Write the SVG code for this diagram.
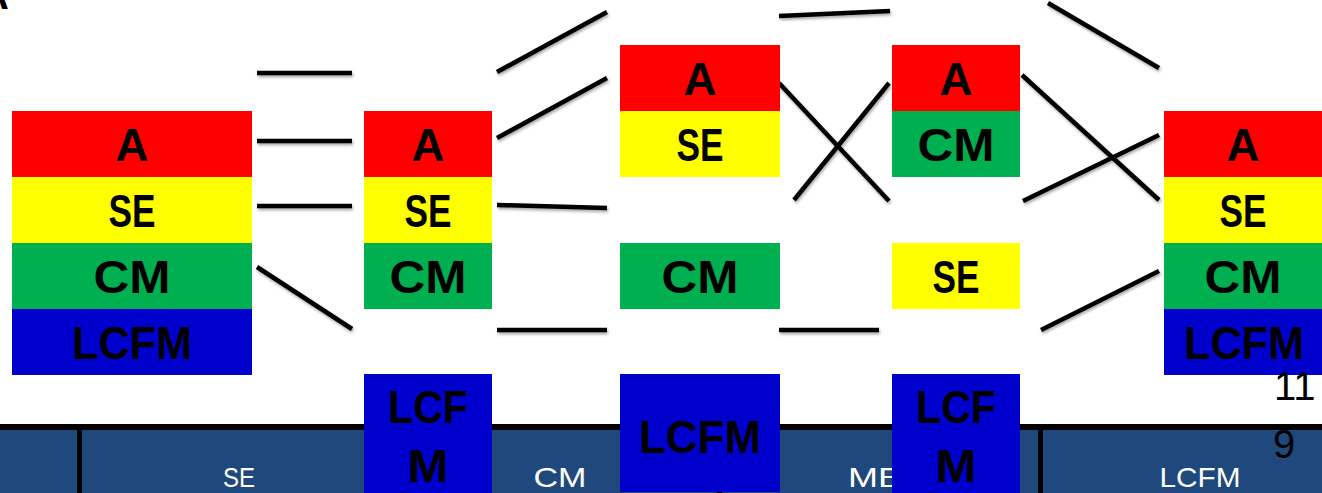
<svg xmlns="http://www.w3.org/2000/svg" width="1322" height="493" viewBox="0 0 1322 493">
<style>
.lbl{font-family:"Liberation Sans",Arial,sans-serif;font-weight:bold;font-size:46px;fill:#000;text-anchor:middle}
.bar{font-family:"Liberation Sans",Arial,sans-serif;font-size:28px;fill:#fff;text-anchor:middle}
.num{font-family:"Liberation Sans",Arial,sans-serif;font-size:40px;fill:#000}
.r{fill:#FF0000}.y{fill:#FFFF00}.g{fill:#00B050}.b{fill:#0000CC}
.conn line{stroke:#000;stroke-width:4.5;stroke-linecap:butt}
</style>
<defs>
<filter id="sh" x="-10%" y="-50%" width="120%" height="200%">
<feDropShadow dx="1" dy="2" stdDeviation="1.5" flood-color="#000" flood-opacity="0.35"/>
</filter>
</defs>
<rect width="1322" height="493" fill="#fff"/>
<text x="9" y="9" font-family="Liberation Sans,Arial,sans-serif" font-weight="bold" font-size="40" text-anchor="end">A</text>
<!-- bottom bar -->
<g id="bottom-bar">
<rect x="0" y="430" width="1322" height="63" fill="#1F497D"/>
<rect x="0" y="424" width="1322" height="6" fill="#000"/>
<rect x="77" y="424" width="5" height="69" fill="#000"/>
<rect x="397" y="424" width="5" height="69" fill="#000"/>
<rect x="717" y="424" width="5" height="69" fill="#000"/>
<rect x="1038" y="424" width="5" height="69" fill="#000"/>
<text class="bar" x="239" y="487" textLength="32" lengthAdjust="spacingAndGlyphs">SE</text>
<text class="bar" x="560" y="487" textLength="53" lengthAdjust="spacingAndGlyphs">CM</text>
<text class="bar" x="848" y="487" style="text-anchor:start" textLength="54" lengthAdjust="spacingAndGlyphs">ME</text>
<text class="bar" x="1200" y="487" textLength="81" lengthAdjust="spacingAndGlyphs">LCFM</text>
</g>
<!-- connectors -->
<g id="connectors" class="conn" filter="url(#sh)">
<line x1="257" y1="73" x2="352" y2="73"/>
<line x1="257" y1="141" x2="352" y2="141"/>
<line x1="257" y1="206" x2="352" y2="206"/>
<line x1="257" y1="267" x2="352" y2="329"/>
<line x1="497" y1="72" x2="607" y2="12"/>
<line x1="497" y1="138" x2="607" y2="78"/>
<line x1="497" y1="205" x2="607" y2="208"/>
<line x1="497" y1="330" x2="607" y2="330"/>
<line x1="779" y1="16" x2="890" y2="11"/>
<line x1="779" y1="83" x2="889" y2="201"/>
<line x1="794" y1="200" x2="889" y2="83"/>
<line x1="779" y1="330" x2="879" y2="330"/>
<line x1="1048" y1="3" x2="1159" y2="68"/>
<line x1="1022" y1="75" x2="1159" y2="200"/>
<line x1="1023" y1="201" x2="1159" y2="135"/>
<line x1="1041" y1="330" x2="1159" y2="271"/>
</g>
<!-- column 1 -->
<g id="col1">
<g id="c1-A"><rect class="r" x="12" y="111" width="240" height="66"/><text class="lbl" x="132" y="161" textLength="33" lengthAdjust="spacingAndGlyphs">A</text></g>
<g id="c1-SE"><rect class="y" x="12" y="177" width="240" height="66"/><text class="lbl" x="132" y="227" textLength="47" lengthAdjust="spacingAndGlyphs">SE</text></g>
<g id="c1-CM"><rect class="g" x="12" y="243" width="240" height="66"/><text class="lbl" x="132" y="293" textLength="77" lengthAdjust="spacingAndGlyphs">CM</text></g>
<g id="c1-LCFM"><rect class="b" x="12" y="309" width="240" height="66"/><text class="lbl" x="132" y="359" textLength="120" lengthAdjust="spacingAndGlyphs">LCFM</text></g>
</g>
<!-- column 2 -->
<g id="col2">
<g id="c2-A"><rect class="r" x="364" y="111" width="128" height="66"/><text class="lbl" x="428" y="161" textLength="33" lengthAdjust="spacingAndGlyphs">A</text></g>
<g id="c2-SE"><rect class="y" x="364" y="177" width="128" height="66"/><text class="lbl" x="428" y="227" textLength="47" lengthAdjust="spacingAndGlyphs">SE</text></g>
<g id="c2-CM"><rect class="g" x="364" y="243" width="128" height="66"/><text class="lbl" x="428" y="293" textLength="77" lengthAdjust="spacingAndGlyphs">CM</text></g>
<g id="c2-LCFM"><rect class="b" x="364" y="374" width="128" height="119"/><text class="lbl" x="428" y="423" textLength="80" lengthAdjust="spacingAndGlyphs">LCF</text><text class="lbl" x="428" y="482" textLength="41" lengthAdjust="spacingAndGlyphs">M</text></g>
</g>
<!-- column 3 -->
<g id="col3">
<g id="c3-A"><rect class="r" x="620" y="45" width="160" height="66"/><text class="lbl" x="700" y="95" textLength="33" lengthAdjust="spacingAndGlyphs">A</text></g>
<g id="c3-SE"><rect class="y" x="620" y="111" width="160" height="66"/><text class="lbl" x="700" y="161" textLength="47" lengthAdjust="spacingAndGlyphs">SE</text></g>
<g id="c3-CM"><rect class="g" x="620" y="243" width="160" height="66"/><text class="lbl" x="700" y="293" textLength="77" lengthAdjust="spacingAndGlyphs">CM</text></g>
<g id="c3-LCFM"><rect class="b" x="620" y="374" width="160" height="118"/><text class="lbl" x="700" y="453" textLength="122" lengthAdjust="spacingAndGlyphs">LCFM</text></g>
</g>
<!-- column 4 -->
<g id="col4">
<g id="c4-A"><rect class="r" x="892" y="45" width="128" height="66"/><text class="lbl" x="956" y="95" textLength="33" lengthAdjust="spacingAndGlyphs">A</text></g>
<g id="c4-CM"><rect class="g" x="892" y="111" width="128" height="66"/><text class="lbl" x="956" y="161" textLength="77" lengthAdjust="spacingAndGlyphs">CM</text></g>
<g id="c4-SE"><rect class="y" x="892" y="243" width="128" height="66"/><text class="lbl" x="956" y="293" textLength="47" lengthAdjust="spacingAndGlyphs">SE</text></g>
<g id="c4-LCFM"><rect class="b" x="892" y="374" width="128" height="119"/><text class="lbl" x="956" y="423" textLength="80" lengthAdjust="spacingAndGlyphs">LCF</text><text class="lbl" x="956" y="482" textLength="41" lengthAdjust="spacingAndGlyphs">M</text></g>
</g>
<!-- column 5 -->
<g id="col5">
<g id="c5-A"><rect class="r" x="1164" y="111" width="158" height="66"/><text class="lbl" x="1243" y="161" textLength="33" lengthAdjust="spacingAndGlyphs">A</text></g>
<g id="c5-SE"><rect class="y" x="1164" y="177" width="158" height="66"/><text class="lbl" x="1243" y="227" textLength="47" lengthAdjust="spacingAndGlyphs">SE</text></g>
<g id="c5-CM"><rect class="g" x="1164" y="243" width="158" height="66"/><text class="lbl" x="1243" y="293" textLength="77" lengthAdjust="spacingAndGlyphs">CM</text></g>
<g id="c5-LCFM"><rect class="b" x="1164" y="309" width="158" height="66"/><text class="lbl" x="1244" y="359" textLength="120" lengthAdjust="spacingAndGlyphs">LCFM</text></g>
</g>
<text class="num" x="1274" y="400">11</text>
<text class="num" x="1273" y="458">9</text>
</svg>
